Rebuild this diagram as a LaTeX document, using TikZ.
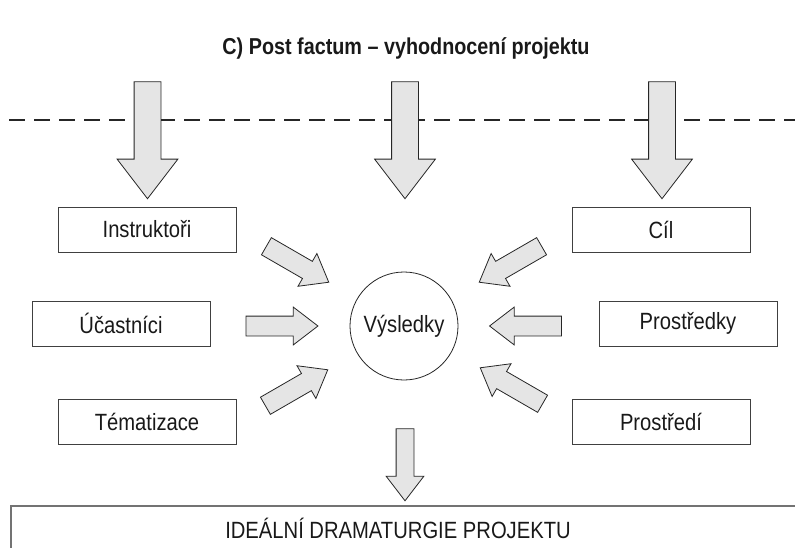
\documentclass[tikz,border=0pt]{standalone}
\usepackage{fontspec}
\setmainfont{Liberation Sans}[FakeStretch=0.86]
\usetikzlibrary{shapes.arrows}

\tikzset{
  labelfont/.style={font=\fontsize{23.5}{26}\selectfont, text=black!90},
  box/.style={draw=black!75, line width=0.9pt, minimum width=178pt, minimum height=45pt, inner sep=0pt, labelfont},
  fatarrow/.style={single arrow, draw=black!85, fill=black!10, line width=0.8pt,
    inner xsep=0pt, inner ysep=9.5pt, single arrow head extend=9pt,
    single arrow tip angle=75, minimum height=72pt},
  bigarrow/.style={fatarrow, inner ysep=13pt, single arrow head extend=17pt, minimum height=117pt}
}

\begin{document}
\begin{tikzpicture}[x=1pt,y=-1pt]
  \useasboundingbox (0,0) rectangle (795,548); % page
  \node[font=\fontsize{23}{26}\selectfont\bfseries, text=black!90] (title) at (406,48) {C) Post factum – vyhodnocení projektu}; % title
  \draw[black!85, line width=2.4pt, dash pattern=on 15.7pt off 9.3pt] (9,120) -- (800,120); % dividing line

  \node[bigarrow, rotate=-90] (in1) at (147.5,131.5) {}; % arrows from above
  \node[bigarrow, rotate=-90] (in2) at (405,131.5) {};
  \node[bigarrow, rotate=-90] (in3) at (662,131.5) {};

  \node[box] (instr) at (147,229.5) {Instruktoři}; % left boxes
  \node[box] (ucast) at (121,323.5) {Účastníci};
  \node[box] (temat) at (147,421.5) {Tématizace};
  \node[box] (cil) at (661,229.5) {Cíl}; % right boxes
  \node[box] (prostredky) at (688,323.5) {Prostředky};
  \node[box] (prostredi) at (661,421.5) {Prostředí};

  \node[draw=black!85, line width=0.8pt, circle, minimum size=108pt, inner sep=0pt, labelfont] (vysl) at (404,326) {Výsledky}; % results

  \node[fatarrow, rotate=-30] (a1) at (292,261) {}; % arrows into results
  \node[fatarrow] (a2) at (275.5,326) {};
  \node[fatarrow, rotate=30] (a3) at (291,391) {};
  \node[fatarrow, rotate=210] (a4) at (516,261) {};
  \node[fatarrow, rotate=180] (a5) at (532,326) {};
  \node[fatarrow, rotate=150] (a6) at (517,389) {};

  \node[fatarrow, rotate=-90, inner ysep=8.5pt, single arrow head extend=10pt] (out) at (405,459) {}; % arrow down

  \draw[black!55, line width=1.6pt] (810,506) -- (10.7,506) -- (10.7,560); % bottom box
  \node[labelfont] (ideal) at (398,528) {IDEÁLNÍ DRAMATURGIE PROJEKTU};
\end{tikzpicture}
\end{document}
